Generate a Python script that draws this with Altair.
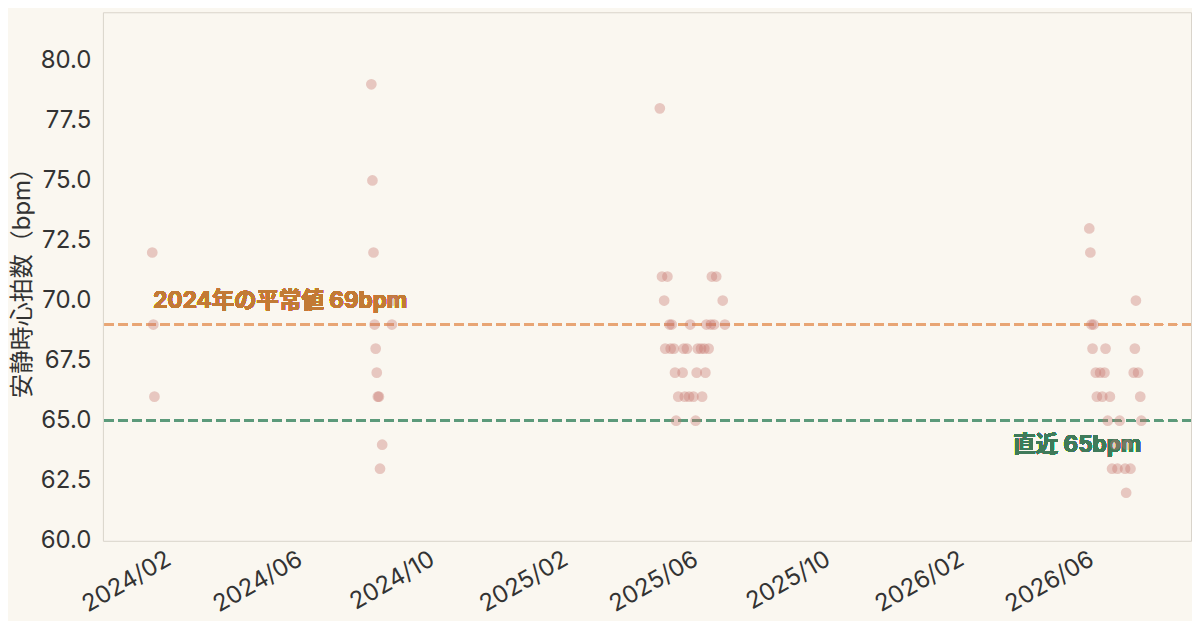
import pandas as pd
import altair as alt

# resting heart rate readings (bpm) by period
dates_2024_jan = ["2024-01-14", "2024-01-15", "2024-01-16"]
bpm_2024_jan = [72, 69, 66]

dates_2024_aug = ["2024-08-03", "2024-08-04", "2024-08-05", "2024-08-06", "2024-08-07",
                  "2024-08-08", "2024-08-09", "2024-08-10", "2024-08-11", "2024-08-13",
                  "2024-08-22", "2024-08-23"]
bpm_2024_aug = [79, 75, 72, 69, 68, 67, 66, 66, 63, 64, 69, 70]

dates_2025 = ["2025-04-26", "2025-04-28", "2025-04-30", "2025-05-01", "2025-05-03",
              "2025-05-05", "2025-05-06", "2025-05-07", "2025-05-09", "2025-05-10",
              "2025-05-11", "2025-05-13", "2025-05-17", "2025-05-18", "2025-05-19",
              "2025-05-21", "2025-05-23", "2025-05-24", "2025-05-27", "2025-05-29",
              "2025-05-30", "2025-05-31", "2025-06-03", "2025-06-04", "2025-06-06",
              "2025-06-07", "2025-06-08", "2025-06-10", "2025-06-12", "2025-06-13",
              "2025-06-15", "2025-06-17", "2025-06-23", "2025-06-25"]
bpm_2025 = [78, 71, 70, 68, 71,
            69, 68, 69, 68, 67,
            65, 66, 67, 68, 66,
            68, 66, 69, 66, 65,
            67, 68, 68, 66, 68,
            67, 69, 68, 69, 71,
            69, 71, 70, 69]

dates_2026 = ["2026-05-27", "2026-05-28", "2026-05-29", "2026-05-30", "2026-05-31",
              "2026-06-02", "2026-06-03", "2026-06-06", "2026-06-08", "2026-06-10",
              "2026-06-11", "2026-06-13", "2026-06-15", "2026-06-17", "2026-06-20",
              "2026-06-22", "2026-06-24", "2026-06-29", "2026-06-30", "2026-07-01",
              "2026-07-04", "2026-07-07", "2026-07-08", "2026-07-09", "2026-07-11",
              "2026-07-13", "2026-07-14"]
bpm_2026 = [73, 72, 69, 68, 69,
            67, 66, 67, 66, 67,
            68, 65, 66, 63, 64,
            63, 65, 63, 62, 64,
            63, 67, 68, 70, 67,
            66, 65]

x_ticks = ["2024-02-01", "2024-06-01", "2024-10-01", "2025-02-01",
           "2025-06-01", "2025-10-01", "2026-02-01", "2026-06-01"]
y_ticks = [60.0, 62.5, 65.0, 67.5, 70.0, 72.5, 75.0, 77.5, 80.0]

baseline_2024 = 69
recent = 65
label_2024 = "2024年の平常値 69bpm"
label_recent = "直近 65bpm"

FONT = "Inter, Noto Sans CJK JP"
BG = "#faf7f0"

df = pd.DataFrame({
    "date": dates_2024_jan + dates_2024_aug + dates_2025 + dates_2026,
    "bpm": bpm_2024_jan + bpm_2024_aug + bpm_2025 + bpm_2026,
})


def dt(s, hours=0):
    y, m, d = (int(p) for p in s.split("-"))
    return alt.DateTime(year=y, month=m, date=d, hours=hours, utc=True)


x_scale = alt.Scale(type="utc", domain=[dt("2023-11-29", 12), dt("2026-08-28", 19)])
y_scale = alt.Scale(domain=[60, 82], nice=False, zero=False)

x_enc = alt.X(
    "date:T",
    scale=x_scale,
    title=None,
    axis=alt.Axis(
        values=[dt(s) for s in x_ticks],
        format="%Y/%m",
        labelAngle=-30,
        labelAlign="right",
        labelBaseline="top",
        labelPadding=6,
        labelOffset=-9,
        labelFlush=False,
        labelOverlap=False,
    ),
)
y_enc = alt.Y(
    "bpm:Q",
    scale=y_scale,
    title="安静時心拍数（bpm）",
    axis=alt.Axis(
        values=y_ticks,
        format=".1f",
        labelPadding=12,
        titleAngle=270,
        titleAlign="center",
        titleBaseline="middle",
        titleX=-80,
    ),
)

points = alt.Chart(df).mark_circle(size=115, opacity=0.38, color="#c97a72").encode(
    x=x_enc, y=y_enc
)

rule_2024 = alt.Chart(df).mark_rule(
    color="#e8a575", strokeWidth=2.4, strokeDash=[9, 5]
).encode(y=alt.datum(baseline_2024))
rule_recent = alt.Chart(df).mark_rule(
    color="#5c9a7b", strokeWidth=2.4, strokeDash=[9, 5]
).encode(y=alt.datum(recent))

text_2024 = alt.Chart(df).mark_text(
    text=label_2024, font=FONT, fontSize=22.5, fontWeight="bold",
    color="#c27a35", align="left", baseline="middle",
).encode(x=alt.datum(dt("2024-01-15")), y=alt.datum(70.0))
text_recent = alt.Chart(df).mark_text(
    text=label_recent, font=FONT, fontSize=22.5, fontWeight="bold",
    color="#3f7a5a", align="right", baseline="middle",
).encode(x=alt.datum(dt("2026-07-14")), y=alt.datum(64.0))

chart = alt.layer(
    rule_2024, rule_recent, text_2024, text_recent, points
).properties(
    width=1089,
    height=529,
    background=BG,
    autosize=alt.AutoSizeParams(type="none"),
    padding={"left": 95, "top": 4, "right": 1, "bottom": 80},
).configure_axis(
    labelFont=FONT,
    titleFont=FONT,
    labelFontSize=24,
    titleFontSize=24,
    titleFontWeight="normal",
    labelColor="#333333",
    titleColor="#333333",
    gridColor="#e2ddd4",
    gridWidth=1,
    ticks=False,
    domain=False,
).configure_view(
    stroke="#d9d4cb",
    strokeWidth=1,
)

chart.save("out.html", embed_options={"renderer": "svg", "actions": False})
